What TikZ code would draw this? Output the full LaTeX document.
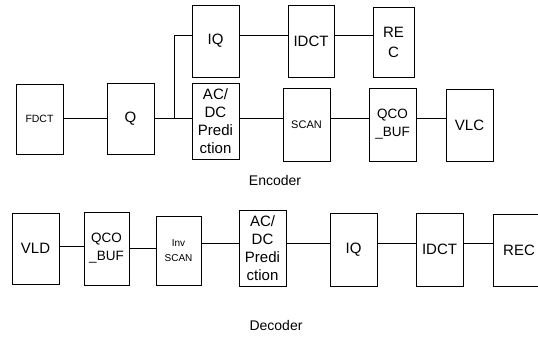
\documentclass[tikz,border=0pt]{standalone}
\usepackage{fontspec}
\setmainfont{Liberation Sans}
\begin{document}
\begin{tikzpicture}[x=1pt,y=-1pt,
  blk/.style={draw,line width=0.9pt,inner sep=0pt,outer sep=0pt,align=center,
    font=\fontsize{15}{18}\selectfont},
  wire/.style={line width=0.9pt},
  lbl/.style={font=\fontsize{14}{16}\selectfont}]
\clip (0,0) rectangle (538,338);
% Encoder
\node[blk,minimum width=47pt,minimum height=70pt,font=\fontsize{10.5}{12}\selectfont] (fdct) at (39.5,119) {FDCT};
\node[blk,minimum width=47pt,minimum height=71pt] (q) at (130.5,118.5) {Q};
\node[blk,minimum width=47pt,minimum height=72pt] (iq) at (215.5,41) {IQ};
\node[blk,minimum width=47pt,minimum height=76pt] (acdc) at (215.5,121) {AC/\\DC\\Predi\\ction};
\node[blk,minimum width=46pt,minimum height=72pt] (idct) at (311,41) {IDCT};
\node[blk,minimum width=41pt,minimum height=70pt,font=\fontsize{15}{20}\selectfont] (rec) at (393.5,42) {RE\\C};
\node[blk,minimum width=47pt,minimum height=73pt,font=\fontsize{11}{13}\selectfont] (scan) at (306.5,124.5) {SCAN};
\node[blk,minimum width=47pt,minimum height=73pt,font=\fontsize{13.5}{18}\selectfont] (qco) at (392.5,124.5) {QCO\\\_BUF};
\node[blk,minimum width=47pt,minimum height=72pt] (vlc) at (469.5,125) {VLC};
\coordinate (rowA) at (0,118);
\coordinate (rowT) at (0,35);
\coordinate (br) at (174,118);
\draw[wire] (fdct.east |- rowA) -- (q.west |- rowA);
\draw[wire] (q.east |- rowA) -- (acdc.west |- rowA);
\draw[wire] (br) |- (iq.west |- rowT);
\draw[wire] (iq.east |- rowT) -- (idct.west |- rowT);
\draw[wire] (idct.east |- rowT) -- (rec.west |- rowT);
\draw[wire] (acdc.east |- rowA) -- (scan.west |- rowA);
\draw[wire] (scan.east |- rowA) -- (qco.west |- rowA);
\draw[wire] (qco.east |- rowA) -- (vlc.west |- rowA);
\node[lbl] (enc) at (275,180) {Encoder};
% Decoder
\node[blk,minimum width=47pt,minimum height=71pt] (vld) at (35.5,248.5) {VLD};
\node[blk,minimum width=45pt,minimum height=73pt,font=\fontsize{13.5}{18}\selectfont] (qco2) at (106.5,248.5) {QCO\\\_BUF};
\node[blk,minimum width=45pt,minimum height=69pt,font=\fontsize{10}{15}\selectfont] (inv) at (178.5,250.5) {Inv\\SCAN};
\node[blk,minimum width=47pt,minimum height=76pt] (acdc2) at (262.5,248) {AC/\\DC\\Predi\\ction};
\node[blk,minimum width=47pt,minimum height=73pt] (iq2) at (353.5,249.5) {IQ};
\node[blk,minimum width=47pt,minimum height=73pt] (idct2) at (439.5,249.5) {IDCT};
\node[blk,minimum width=52pt,minimum height=72pt] (rec2) at (519,250) {REC};
\coordinate (rowB) at (0,243);
\draw[wire] (vld.east |- 0,246) -- (qco2.west |- 0,246);
\draw[wire] (qco2.east |- 0,248) -- (inv.west |- 0,248);
\draw[wire] (inv.east |- rowB) -- (acdc2.west |- rowB);
\draw[wire] (acdc2.east |- rowB) -- (iq2.west |- rowB);
\draw[wire] (iq2.east |- rowB) -- (idct2.west |- rowB);
\draw[wire] (idct2.east |- rowB) -- (rec2.west |- rowB);
\node[lbl] (dec) at (276,325) {Decoder};
\end{tikzpicture}
\end{document}
